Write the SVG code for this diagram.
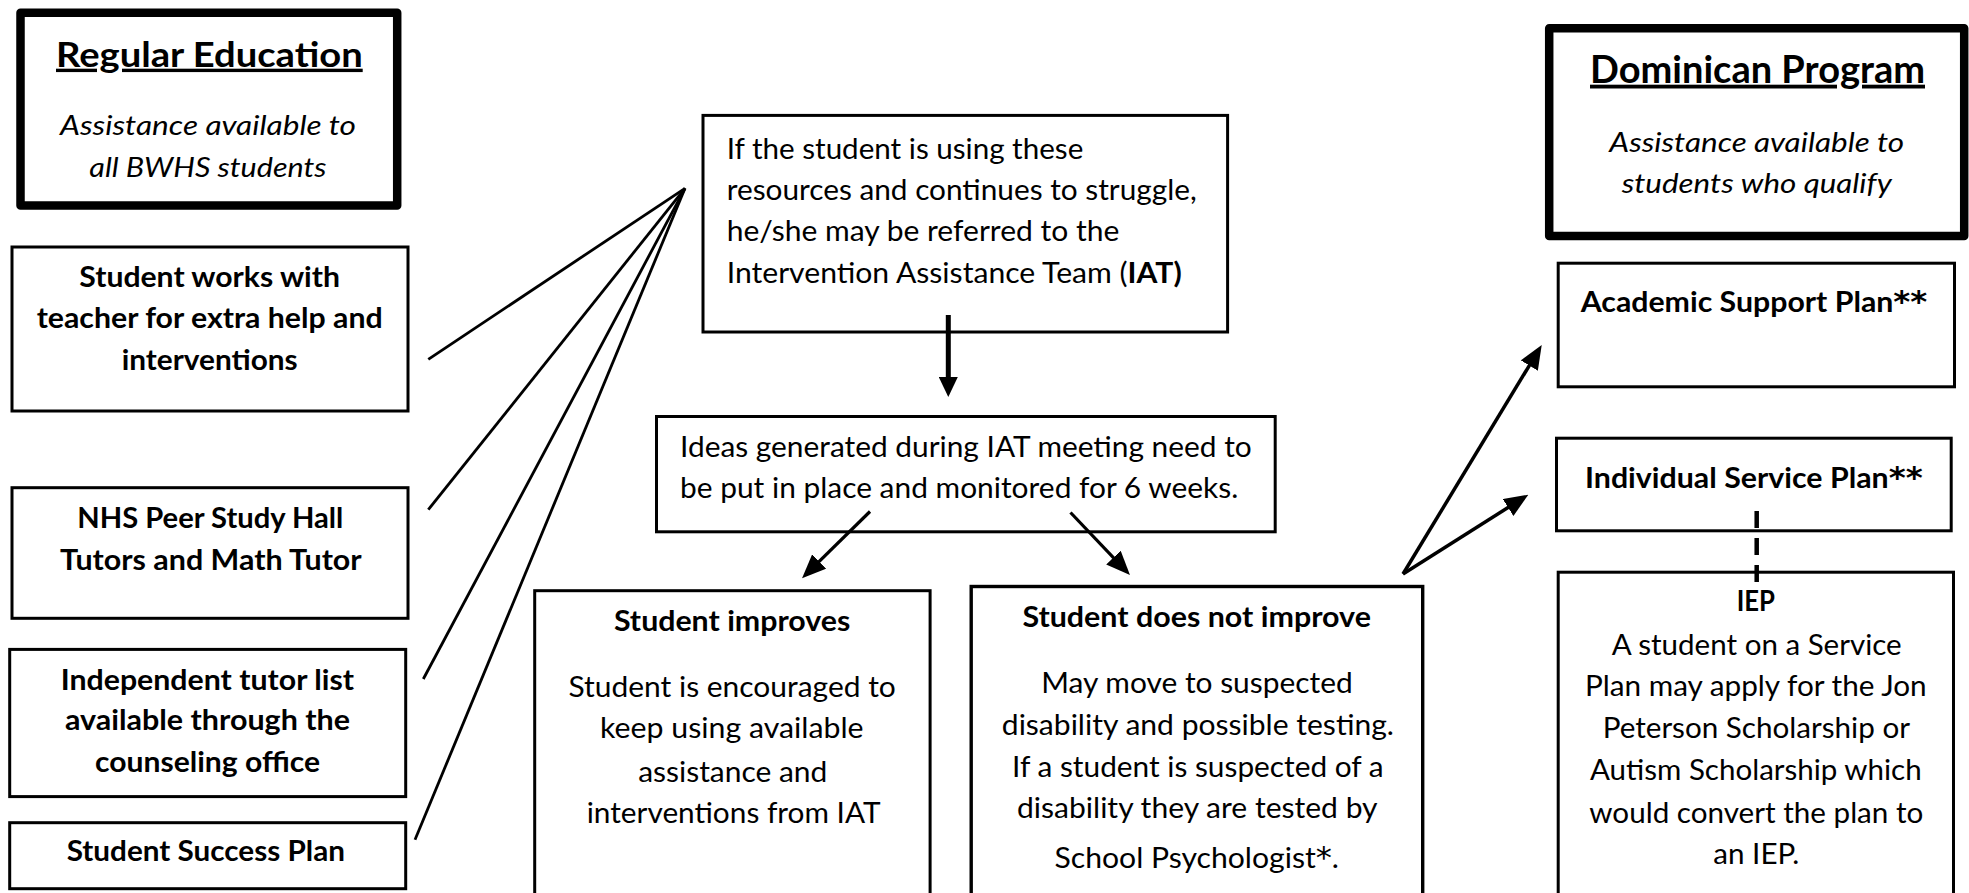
<svg xmlns="http://www.w3.org/2000/svg" width="1969" height="893" viewBox="0 0 1969 893">
<style>
text{font-family:Lato,Carlito,"Liberation Sans",sans-serif;font-size:28px;fill:#000}
.b{font-weight:700}
.i{font-style:italic;font-size:27px}
.t{font-weight:700;font-size:34px;text-decoration:underline}
.box{fill:#fff;stroke:#000;stroke-width:3}
.hbox{fill:#fff;stroke:#000;stroke-width:8.5;stroke-linejoin:round}
.ln{stroke:#000;stroke-width:2.8;fill:none}
.ar{stroke:#000;stroke-width:3.2;fill:none;marker-end:url(#ah)}
.sup{font-family:"DejaVu Sans",sans-serif;font-size:30px;font-weight:700}
</style>
<defs>
<marker id="ah" viewBox="0 0 24 20" refX="12" refY="10" markerWidth="24" markerHeight="20" markerUnits="userSpaceOnUse" orient="auto">
<path d="M0,0 L24,10 L0,20 z" fill="#000"/>
</marker>
<marker id="ahs" viewBox="0 0 20 19" refX="8" refY="9.5" markerWidth="20" markerHeight="19" markerUnits="userSpaceOnUse" orient="auto">
<path d="M0,0 L20,9.5 L0,19 z" fill="#000"/>
</marker>
</defs>
<rect width="1969" height="893" fill="#fff"/>

<g id="regular-education">
<rect class="hbox" x="20.5" y="12.8" width="376.7" height="192.7"/>
<text class="t" x="56" y="66.7" textLength="306.7" lengthAdjust="spacingAndGlyphs">Regular Education</text>
<text class="i" x="60" y="135" textLength="296" lengthAdjust="spacingAndGlyphs">Assistance available to</text>
<text class="i" x="89.3" y="176.7" textLength="237.3" lengthAdjust="spacingAndGlyphs">all BWHS students</text>
</g>

<g id="teacher-help">
<rect class="box" x="12" y="247" width="396" height="164"/>
<text class="b" x="79.3" y="286.7" textLength="260.7" lengthAdjust="spacingAndGlyphs">Student works with</text>
<text class="b" x="36.7" y="328.3" textLength="346" lengthAdjust="spacingAndGlyphs">teacher for extra help and</text>
<text class="b" x="121.7" y="370" textLength="176" lengthAdjust="spacingAndGlyphs">interventions</text>
</g>

<g id="nhs-tutors">
<rect class="box" x="12" y="487.7" width="396" height="130.6"/>
<text class="b" x="77.3" y="528" textLength="266" lengthAdjust="spacingAndGlyphs">NHS Peer Study Hall</text>
<text class="b" x="60" y="570.3" textLength="301.7" lengthAdjust="spacingAndGlyphs">Tutors and Math Tutor</text>
</g>

<g id="independent-tutor">
<rect class="box" x="9.7" y="649.4" width="396" height="147.2"/>
<text class="b" x="60.7" y="689.7" textLength="293.3" lengthAdjust="spacingAndGlyphs">Independent tutor list</text>
<text class="b" x="65" y="730.3" textLength="285" lengthAdjust="spacingAndGlyphs">available through the</text>
<text class="b" x="95" y="771.5" textLength="225" lengthAdjust="spacingAndGlyphs">counseling office</text>
</g>

<g id="success-plan">
<rect class="box" x="9.7" y="822.7" width="396" height="66"/>
<text class="b" x="66.7" y="861.3" textLength="278.3" lengthAdjust="spacingAndGlyphs">Student Success Plan</text>
</g>

<g id="iat-referral">
<rect class="box" x="703" y="115.4" width="524.6" height="216.6"/>
<text x="726.7" y="159" textLength="356.6" lengthAdjust="spacingAndGlyphs">If the student is using these</text>
<text x="726.7" y="199.5" textLength="470" lengthAdjust="spacingAndGlyphs">resources and continues to struggle,</text>
<text x="726.7" y="240.5" textLength="392.6" lengthAdjust="spacingAndGlyphs">he/she may be referred to the</text>
<text x="726.7" y="283" textLength="455" lengthAdjust="spacingAndGlyphs">Intervention Assistance Team (<tspan class="b">IAT)</tspan></text>
</g>

<g id="iat-ideas">
<rect class="box" x="656.5" y="416.5" width="618.7" height="115.3"/>
<text x="680" y="457.3" textLength="571.7" lengthAdjust="spacingAndGlyphs">Ideas generated during IAT meeting need to</text>
<text x="680" y="498.3" textLength="558.3" lengthAdjust="spacingAndGlyphs">be put in place and monitored for 6 weeks.</text>
</g>

<g id="student-improves">
<rect class="box" x="534.7" y="590.7" width="395.4" height="330"/>
<text class="b" x="613.9" y="630.7" textLength="236.4" lengthAdjust="spacingAndGlyphs">Student improves</text>
<text x="568.5" y="696.7" textLength="327.3" lengthAdjust="spacingAndGlyphs">Student is encouraged to</text>
<text x="600" y="738.3" textLength="263.6" lengthAdjust="spacingAndGlyphs">keep using available</text>
<text x="638.2" y="781.7" textLength="189.1" lengthAdjust="spacingAndGlyphs">assistance and</text>
<text x="586.7" y="823.3" textLength="293.9" lengthAdjust="spacingAndGlyphs">interventions from IAT</text>
</g>

<g id="student-not-improve">
<rect class="box" x="971.2" y="586.5" width="451.5" height="330" style="stroke-width:3.4"/>
<text class="b" x="1022.4" y="626.7" textLength="348.5" lengthAdjust="spacingAndGlyphs">Student does not improve</text>
<text x="1041.2" y="693.3" textLength="311.5" lengthAdjust="spacingAndGlyphs">May move to suspected</text>
<text x="1001.8" y="735" textLength="392.1" lengthAdjust="spacingAndGlyphs">disability and possible testing.</text>
<text x="1012.1" y="777.3" textLength="371.5" lengthAdjust="spacingAndGlyphs">If a student is suspected of a</text>
<text x="1017" y="818.3" textLength="360.6" lengthAdjust="spacingAndGlyphs">disability they are tested by</text>
<text x="1054.5" y="868.3" textLength="284.5" lengthAdjust="spacingAndGlyphs">School Psychologist<tspan class="sup" style="font-weight:400">*</tspan>.</text>
</g>

<g id="dominican-program">
<rect class="hbox" x="1549.2" y="28.2" width="415" height="207.7"/>
<text class="t" x="1590" y="82.7" textLength="335" lengthAdjust="spacingAndGlyphs" style="font-size:38px">Dominican Program</text>
<text class="i" x="1609.3" y="151.7" textLength="294.7" lengthAdjust="spacingAndGlyphs">Assistance available to</text>
<text class="i" x="1621.7" y="193.3" textLength="270" lengthAdjust="spacingAndGlyphs">students who qualify</text>
</g>

<g id="academic-support-plan">
<rect class="box" x="1558.2" y="263.2" width="396.3" height="123.6"/>
<text class="b" x="1580.7" y="311.7" textLength="346.6" lengthAdjust="spacingAndGlyphs">Academic Support Plan<tspan class="sup">**</tspan></text>
</g>

<g id="individual-service-plan">
<rect class="box" x="1556.5" y="438.2" width="394.7" height="92.6"/>
<text class="b" x="1585" y="488" textLength="337.7" lengthAdjust="spacingAndGlyphs">Individual Service Plan<tspan class="sup">**</tspan></text>
</g>

<g id="iep">
<rect class="box" x="1558.2" y="572.2" width="395.3" height="340"/>
<text class="b" x="1736.7" y="611.3" textLength="38.3" lengthAdjust="spacingAndGlyphs">IEP</text>
<text x="1611.7" y="654.7" textLength="290" lengthAdjust="spacingAndGlyphs">A student on a Service</text>
<text x="1585" y="696.3" textLength="341.7" lengthAdjust="spacingAndGlyphs">Plan may apply for the Jon</text>
<text x="1602.7" y="738" textLength="307.3" lengthAdjust="spacingAndGlyphs">Peterson Scholarship or</text>
<text x="1590" y="779.7" textLength="331.7" lengthAdjust="spacingAndGlyphs">Autism Scholarship which</text>
<text x="1589.3" y="823" textLength="334" lengthAdjust="spacingAndGlyphs">would convert the plan to</text>
<text x="1713.3" y="863.7" textLength="86" lengthAdjust="spacingAndGlyphs">an IEP.</text>
</g>

<g id="connectors">
<line class="ln" x1="428.3" y1="359.3" x2="685" y2="188.3"/>
<line class="ln" x1="428.3" y1="509.7" x2="685" y2="188.3"/>
<line class="ln" x1="423.3" y1="679" x2="685" y2="188.3"/>
<line class="ln" x1="415" y1="839.7" x2="685" y2="188.3"/>
<line x1="948.3" y1="315" x2="948.3" y2="385" stroke="#000" stroke-width="5" marker-end="url(#ahs)"/>
<line class="ar" x1="870" y1="511.5" x2="810.6" y2="569.9"/>
<line class="ar" x1="1070.5" y1="512.5" x2="1121.7" y2="566.3"/>
<line class="ar" x1="1403" y1="574" x2="1535.5" y2="355.3" style="stroke-width:3.5"/>
<line class="ar" x1="1403" y1="574" x2="1518.2" y2="501.1" style="stroke-width:3.5"/>
<line x1="1756.7" y1="511" x2="1756.7" y2="583" stroke="#000" stroke-width="4.5" stroke-dasharray="17 10"/>
</g>
</svg>
